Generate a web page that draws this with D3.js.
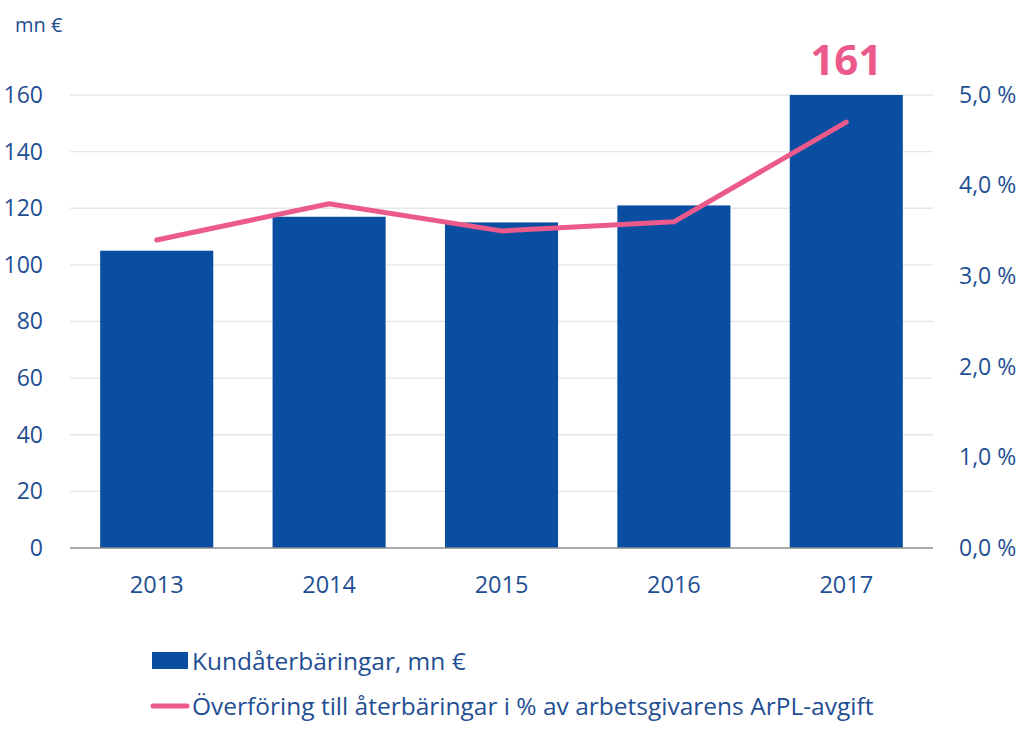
<!DOCTYPE html>
<html><head><meta charset="utf-8">
<script src="https://cdn.jsdelivr.net/npm/d3@7"></script>
<style>body{margin:0;background:#fff}svg{display:block}text{font-family:"Open Sans","Noto Sans",sans-serif}</style>
</head><body><svg id="c" width="1024" height="737"></svg>
<script>
const years = ["2013","2014","2015","2016","2017"];
const refunds = [105, 117, 115, 121, 161];
const percent = [3.4, 3.8, 3.5, 3.6, 4.7];
const leftTicks = [0,20,40,60,80,100,120,140,160];
const rightTicks = [0,1,2,3,4,5];
const highlightLabel = "161";
const legendLabels = ["Kundåterbäringar, mn €","Överföring till återbäringar i % av arbetsgivarens ArPL-avgift"];

const blue = "#0a4ea2", pink = "#ec5a8c", txt = "#1f4f93";
const FF = '"Open Sans","Noto Sans",sans-serif';
const svg = d3.select("#c");
const L = 70, R = 933, T = 95, B = 548;
const x = d3.scaleBand().domain(years).range([L, R]).paddingInner(0.344).paddingOuter(0.175);
const y = d3.scaleLinear().domain([0,160]).range([B,T]).clamp(true);
const y2 = d3.scaleLinear().domain([0,5]).range([B,T]);

// gridlines
svg.append("g").selectAll("line").data(leftTicks.filter(d=>d>0)).join("line")
  .attr("x1", L).attr("x2", R).attr("y1", d=>y(d)).attr("y2", d=>y(d))
  .attr("stroke", "#e6e6e6").attr("stroke-width", 1.3);

// bars
svg.append("g").selectAll("rect").data(years).join("rect")
  .attr("x", d=>x(d)).attr("width", x.bandwidth())
  .attr("y", (d,i)=>y(refunds[i])).attr("height", (d,i)=>B - y(refunds[i]))
  .attr("fill", blue);

// baseline
svg.append("line").attr("x1", L).attr("x2", R).attr("y1", B).attr("y2", B)
  .attr("stroke", "#8c8c8c").attr("stroke-width", 1.5);

// left axis
const la = svg.append("g").attr("transform", `translate(${L},0)`)
  .call(d3.axisLeft(y).tickValues(leftTicks).tickSize(0).tickPadding(27));
la.select(".domain").remove();
la.selectAll("text").attr("fill", txt).style("font-size","23px").style("font-family",FF);

// right axis
const fmt = d => d3.format(".1f")(d).replace(".", ",") + " %";
const ra = svg.append("g").attr("transform", `translate(${R},0)`)
  .call(d3.axisRight(y2).tickValues(rightTicks).tickFormat(fmt).tickSize(0).tickPadding(26));
ra.select(".domain").remove();
ra.selectAll("text").attr("fill", txt).style("font-size","23px").style("font-family",FF);

// x axis
const xa = svg.append("g").attr("transform", `translate(0,${B})`)
  .call(d3.axisBottom(x).tickSize(0).tickPadding(28));
xa.select(".domain").remove();
xa.selectAll("text").attr("fill", txt).style("font-size","23.5px").style("font-family",FF);

// line
const line = d3.line().x((d,i)=>x(years[i]) + x.bandwidth()/2).y(d=>y2(d));
svg.append("path").datum(percent).attr("d", line)
  .attr("fill","none").attr("stroke", pink).attr("stroke-width", 5)
  .attr("stroke-linecap","round").attr("stroke-linejoin","round");

// highlight label
svg.append("text").attr("x", x("2017") + x.bandwidth()/2).attr("y", 75)
  .attr("text-anchor","middle").attr("fill", pink).attr("font-weight","bold")
  .style("font-size","42px").text(highlightLabel);

// unit label
svg.append("text").attr("x", 15).attr("y", 32).attr("fill", txt).style("font-size","20px").text("mn €");

// legend
svg.append("rect").attr("x",152).attr("y",652).attr("width",36).attr("height",17).attr("fill", blue);
svg.append("text").attr("x",192).attr("y",670).attr("fill", txt).style("font-size","24.5px").text(legendLabels[0]);
svg.append("line").attr("x1",153).attr("x2",187).attr("y1",706).attr("y2",706)
  .attr("stroke", pink).attr("stroke-width",5).attr("stroke-linecap","round");
svg.append("text").attr("x",192).attr("y",715).attr("fill", txt).style("font-size","24.5px").text(legendLabels[1]);
</script></body></html>
